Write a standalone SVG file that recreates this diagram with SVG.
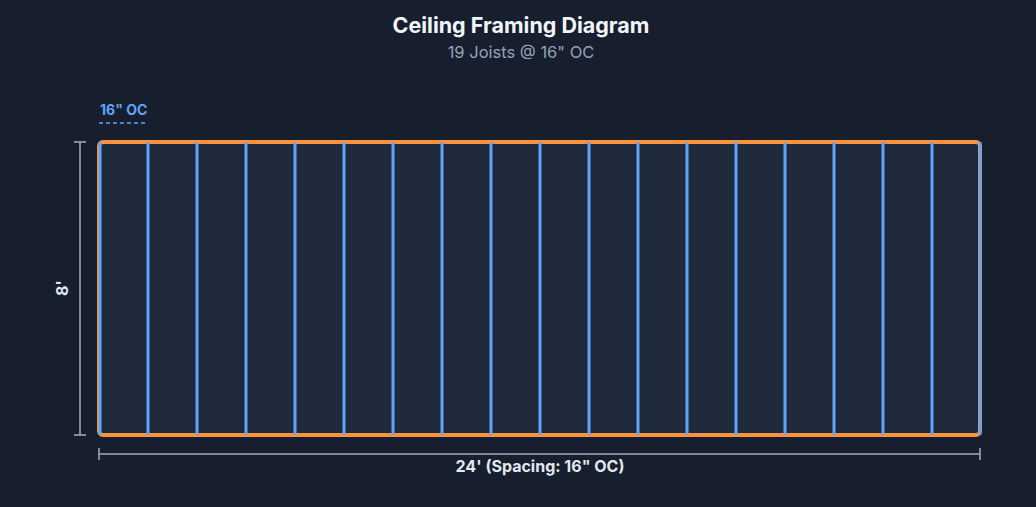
<svg xmlns="http://www.w3.org/2000/svg" width="1036" height="507" viewBox="0 0 1036 507">
<style>
.title{font-family:Inter,"Noto Sans",sans-serif;font-weight:700;font-size:21.5px;fill:#f1f5f9}
.sub{font-family:Inter,"Noto Sans",sans-serif;font-size:16.5px;fill:#94a3b8}
.dim{font-family:Inter,"Noto Sans",sans-serif;font-weight:700;font-size:16px;fill:#e2e8f0}
.oc{font-family:Inter,"Noto Sans",sans-serif;font-weight:700;font-size:14px;fill:#60a5fa}
.dline{stroke:#a3aebf;stroke-width:1.5;fill:none}
.joist{stroke:#60a5fa;stroke-width:3}
</style>
<rect width="1036" height="507" fill="#171e2d"/>
<text class="title" x="521" y="33" text-anchor="middle">Ceiling Framing Diagram</text>
<text class="sub" x="521" y="58" text-anchor="middle">19 Joists @ 16" OC</text>
<g id="frame">
<rect x="99" y="142" width="881" height="293" rx="4" fill="#1e293b" stroke="#fb923c" stroke-width="4"/>
</g>
<g id="joists">
<line class="joist" x1="100" y1="142" x2="100" y2="435"/>
<line class="joist" x1="148" y1="142" x2="148" y2="435"/>
<line class="joist" x1="197" y1="142" x2="197" y2="435"/>
<line class="joist" x1="246" y1="142" x2="246" y2="435"/>
<line class="joist" x1="295" y1="142" x2="295" y2="435"/>
<line class="joist" x1="344" y1="142" x2="344" y2="435"/>
<line class="joist" x1="393" y1="142" x2="393" y2="435"/>
<line class="joist" x1="442" y1="142" x2="442" y2="435"/>
<line class="joist" x1="491" y1="142" x2="491" y2="435"/>
<line class="joist" x1="540" y1="142" x2="540" y2="435"/>
<line class="joist" x1="589" y1="142" x2="589" y2="435"/>
<line class="joist" x1="638" y1="142" x2="638" y2="435"/>
<line class="joist" x1="687" y1="142" x2="687" y2="435"/>
<line class="joist" x1="736" y1="142" x2="736" y2="435"/>
<line class="joist" x1="785" y1="142" x2="785" y2="435"/>
<line class="joist" x1="834" y1="142" x2="834" y2="435"/>
<line class="joist" x1="883" y1="142" x2="883" y2="435"/>
<line class="joist" x1="932" y1="142" x2="932" y2="435"/>
<line class="joist" x1="980" y1="142" x2="980" y2="435"/>
</g>
<g id="spacing-label">
<text class="oc" x="100" y="115">16" OC</text>
<line x1="99" y1="123" x2="148" y2="123" stroke="#60a5fa" stroke-width="1.5" stroke-dasharray="4,3"/>
</g>
<g id="dim-height">
<line class="dline" x1="80" y1="142" x2="80" y2="435"/>
<line class="dline" x1="74" y1="142" x2="86" y2="142"/>
<line class="dline" x1="74" y1="435" x2="86" y2="435"/>
<text class="dim" x="0" y="0" text-anchor="middle" transform="translate(68,288) rotate(-90)">8'</text>
</g>
<g id="dim-width">
<line class="dline" x1="99" y1="454" x2="980" y2="454"/>
<line class="dline" x1="99" y1="448" x2="99" y2="460"/>
<line class="dline" x1="980" y1="448" x2="980" y2="460"/>
<text class="dim" x="540" y="472" text-anchor="middle">24' (Spacing: 16" OC)</text>
</g>
</svg>
